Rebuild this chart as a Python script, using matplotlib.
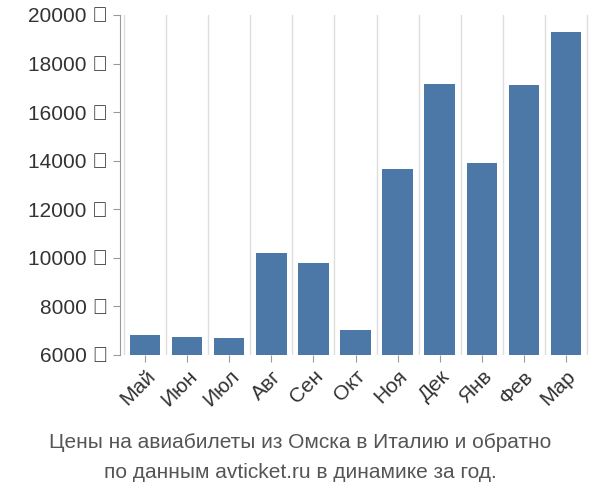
import matplotlib
matplotlib.use("Agg")
import matplotlib.pyplot as plt

months = ["Май","Июн","Июл","Авг","Сен","Окт","Ноя","Дек","Янв","Фев","Мар"]
prices = [6820, 6760, 6720, 10200, 9790, 7050, 13650, 17150, 13920, 17100, 19320]
yticks = [6000, 8000, 10000, 12000, 14000, 16000, 18000, 20000]

plt.rcParams["font.family"] = "Liberation Sans"
fig = plt.figure(figsize=(6, 5), dpi=100)
ax = fig.add_axes([0.2, 0.29, 0.785, 0.68])
x = range(len(months))
ax.bar(x, prices, width=0.72, color="#4c78a8", zorder=2)
ax.set_ylim(6000, 20000)
ax.set_xlim(-0.6, len(months) - 0.4)
ax.set_yticks(yticks)
ax.set_yticklabels([f"{v} ₽" for v in yticks], fontsize=15, color="#333333")
ax.set_xticks(list(x))
ax.set_xticklabels(months, rotation=45, ha="right", rotation_mode="anchor", fontsize=15, color="#333333")
for xi in [i - 0.5 for i in range(len(months) + 1)]:
    ax.axvline(xi, color="#dddddd", lw=1, zorder=0)
for s in ["top", "right", "bottom"]:
    ax.spines[s].set_visible(False)
ax.spines["left"].set_color("#999999")
ax.tick_params(axis="both", length=5, color="#999999")
fig.text(0.5, 0.105, "Цены на авиабилеты из Омска в Италию и обратно", ha="center", fontsize=15, color="#555555")
fig.text(0.5, 0.045, "по данным avticket.ru в динамике за год.", ha="center", fontsize=15, color="#555555")
fig.savefig("out.png")
